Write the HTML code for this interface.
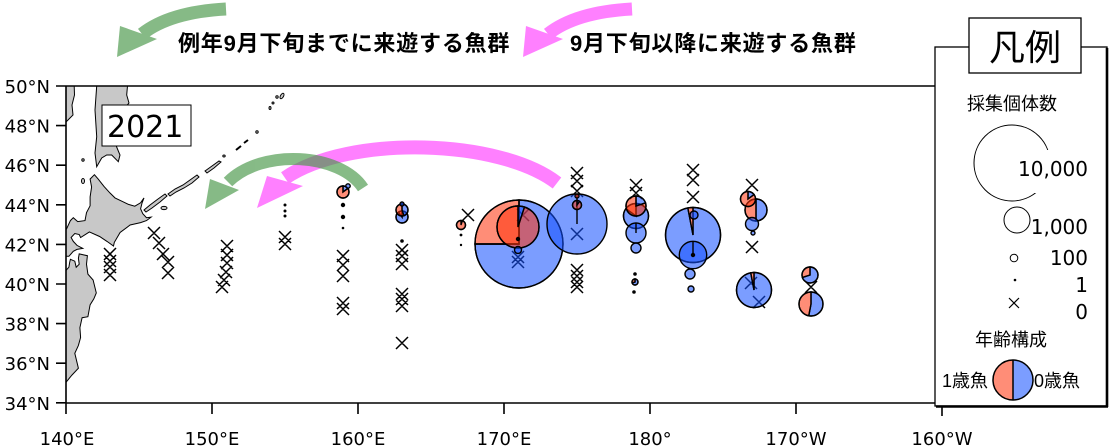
<!DOCTYPE html>
<html><head><meta charset="utf-8">
<style>
html,body{margin:0;padding:0;background:#fff;}
svg{display:block;}
.ax{font-family:"DejaVu Sans","Liberation Sans",sans-serif;font-size:18px;fill:#000;}
.jp{font-family:"Liberation Sans","Noto Sans CJK JP",sans-serif;fill:#000;}
</style></head><body>
<svg width="1109" height="448" viewBox="0 0 1109 448" xmlns="http://www.w3.org/2000/svg">
<defs>
<clipPath id="pc"><rect x="66" y="86" width="869" height="317"/></clipPath>
</defs>
<rect width="1109" height="448" fill="#fff"/>

<!-- land -->
<g clip-path="url(#pc)" fill="#c8c8c8" stroke="#000" stroke-width="1">
<path d="M94.4,174.7 L98.2,179.1 L104,186.4 L109.9,192.9 L115,197.9 L123.1,201.8 L128.5,204.4 L134.8,206.2 L140.6,202.8 L144,197.9 L142.1,202.8 L140.6,208.8 L142.8,213.7 L146.5,217.7 L151.1,217.1 L146.5,220.6 L140.6,222.6 L130.1,225 L120.1,232.5 L114.3,242.4 L113.5,246 L107,241.4 L99.6,236.5 L89.4,231.9 L80.6,237.5 L79.2,234.5 L74.8,233.5 L71.1,237.5 L73.3,241.4 L77,245.4 L82.8,248.4 L77,249.4 L73.3,251.3 L68.9,256.3 L64.5,256.3 L63.1,244.4 L63.1,232.5 L66.7,228.6 L70.4,220.6 L73.3,217.7 L77.7,221.6 L85,220.6 L86.5,212.7 L90.1,205.8 L90.1,196.9 L91.6,187 L90.1,179.1 Z"/>
<path d="M70.4,259.3 L74.8,261.2 L76.2,267.2 L79.2,264.2 L78.4,258.3 L79.2,253.9 L87.4,255.7 L86.5,264.2 L87.9,274.1 L93.1,280 L96.3,292.9 L93.8,298.9 L90.1,304.8 L87.9,316.7 L82.1,317.7 L79.9,327.6 L80.6,337.5 L78.4,345.4 L74.8,353.3 L78.4,368.2 L71.9,375.1 L63.8,385 L51,385 L51,272 L64.5,272.1 L68.9,267.2 L69.7,262.2 Z"/>
<path d="M96.7,80 L96.7,86 L95,110 L96.7,136.7 L95,153 L96.7,166.7 L101.7,158 L106.7,155 L111.7,155 L118.3,161.7 L120,155 L115,143 L116.7,126.7 L123,110 L129,103 L126.7,95 L128,80 Z"/>
<path d="M60,80 L74,80 L74.5,95 L72,105 L73,115 L68,120 L66,122 L60,122 Z"/>
<path d="M144,210 L150,205 L158,199 L165,194 L167,196 L160,202 L152,208 L146,212 Z"/>
<ellipse cx="164" cy="208" rx="3" ry="1.6"/>
<path d="M168,194 L175,189 L183,185 L190,180 L197,175 L199,177 L192,183 L184,188 L176,192 L170,196 Z"/>
<path d="M205,171 L212,166 L219,161 L221,162 L214,168 L207,173 Z"/>
<ellipse cx="83" cy="160" rx="1.2" ry="1.2"/>
<ellipse cx="83" cy="181" rx="1.5" ry="2.5"/>
<ellipse cx="224" cy="156" rx="1.2" ry="1"/>
<path d="M236,150 L241,146" stroke-width="2"/>
<path d="M244,143 L248,140" stroke-width="2"/>
<ellipse cx="257" cy="132" rx="1.2" ry="1.2"/>
<ellipse cx="270" cy="108" rx="1" ry="1.5"/>
<ellipse cx="273" cy="103" rx="1" ry="1"/>
<ellipse cx="277" cy="97" rx="1.2" ry="1.2"/>
<ellipse cx="282" cy="96" rx="1.5" ry="3" transform="rotate(30 282 96)"/>
</g>

<!-- plot arrows -->
<path d="M557,183 C500,139 350,134 285,178" fill="none" stroke="#ff80ff" stroke-width="14"/>
<polygon points="257,208 267,176 303,186" fill="#ff80ff"/>
<g opacity="0.65">
<path d="M363,188 C340,153 262,148 228,182" fill="none" stroke="#469646" stroke-width="12"/>
<polygon points="205,209 210,179 239,190" fill="#469646"/>
</g>

<!-- crosses -->
<path fill="none" stroke="#000" stroke-width="1.5" d="
M104,248l12,12m0,-12l-12,12 M104,255l12,12m0,-12l-12,12 M104,261l12,12m0,-12l-12,12 M104,269l12,12m0,-12l-12,12
M148,227l12,12m0,-12l-12,12 M153,237l12,12m0,-12l-12,12 M157,248l12,12m0,-12l-12,12 M162,256l12,12m0,-12l-12,12 M162,267l12,12m0,-12l-12,12
M221,240l12,12m0,-12l-12,12 M221,249l12,12m0,-12l-12,12 M221,257l12,12m0,-12l-12,12 M220,266l12,12m0,-12l-12,12 M218,274l12,12m0,-12l-12,12 M216,281l12,12m0,-12l-12,12
M279,231l12,12m0,-12l-12,12 M279,238l12,12m0,-12l-12,12
M337,250l12,12m0,-12l-12,12 M337,259l12,12m0,-12l-12,12 M337,270l12,12m0,-12l-12,12 M337,297l12,12m0,-12l-12,12 M337,303l12,12m0,-12l-12,12
M396,244l12,12m0,-12l-12,12 M396,250l12,12m0,-12l-12,12 M396,258l12,12m0,-12l-12,12 M396,288l12,12m0,-12l-12,12 M396,293l12,12m0,-12l-12,12 M396,300l12,12m0,-12l-12,12 M396,337l12,12m0,-12l-12,12
M462,209l12,12m0,-12l-12,12
M512,251l12,12m0,-12l-12,12 M512,256l12,12m0,-12l-12,12 M517,209l12,12m0,-12l-12,12
M571,167l12,12m0,-12l-12,12 M571,175l12,12m0,-12l-12,12 M571,185l12,12m0,-12l-12,12 M571,228l12,12m0,-12l-12,12 M571,264l12,12m0,-12l-12,12 M571,270l12,12m0,-12l-12,12 M571,276l12,12m0,-12l-12,12 M571,281l12,12m0,-12l-12,12
M630,179l12,12m0,-12l-12,12 M630,187l12,12m0,-12l-12,12
M687,164l12,12m0,-12l-12,12 M687,174l12,12m0,-12l-12,12 M687,191l12,12m0,-12l-12,12
M746,179l12,12m0,-12l-12,12 M746,241l12,12m0,-12l-12,12 M745,277l12,12m0,-12l-12,12 M753,296l12,12m0,-12l-12,12
M805,281l12,12m0,-12l-12,12"/>

<!-- dots -->
<g fill="#000">
<circle cx="285" cy="205" r="1.5"/><circle cx="285" cy="211" r="1.5"/><circle cx="285" cy="216" r="1.5"/>
<circle cx="343" cy="205" r="2.2"/><circle cx="343" cy="217" r="2.2"/><circle cx="343" cy="228" r="1.3"/>
<circle cx="402" cy="241" r="1.8"/>
<circle cx="461" cy="235" r="1.4"/><circle cx="461" cy="245" r="1.2"/>
<circle cx="635" cy="274" r="1.8"/><circle cx="634" cy="292" r="1.8"/>
</g>

<!-- pies -->
<g stroke="#000" stroke-width="1.4">
<!-- 159E -->
<path d="M343,192 L343,186 A6,6 0 0 1 347.85,188.47 Z" fill="rgba(20,80,255,0.56)"/>
<path d="M343,192 L343,186 A6,6 0 1 0 347.85,188.47 Z" fill="rgba(255,51,12,0.56)"/>
<circle cx="343" cy="192" r="6" fill="none"/>
<circle cx="348" cy="186" r="2.2" fill="rgba(20,80,255,0.56)"/>
<!-- 163E -->
<path d="M402,217 L402,211 A6,6 0 1 1 398.47,212.15 Z" fill="rgba(20,80,255,0.56)"/>
<path d="M402,217 L402,211 A6,6 0 0 0 398.47,212.15 Z" fill="rgba(255,51,12,0.56)"/>
<circle cx="402" cy="217" r="6" fill="none"/>
<path d="M402,210 L402,204 A6,6 0 0 1 403.85,215.71 Z" fill="rgba(20,80,255,0.56)"/>
<path d="M402,210 L402,204 A6,6 0 1 0 403.85,215.71 Z" fill="rgba(255,51,12,0.56)"/>
<circle cx="402" cy="210" r="6" fill="none"/>
<circle cx="402" cy="204" r="2" fill="rgba(20,80,255,0.56)"/>
<!-- 167E -->
<path d="M461,225 L461,220.5 A4.5,4.5 0 1 0 462.39,220.72 Z" fill="rgba(255,51,12,0.56)"/>
<circle cx="461" cy="225" r="4.5" fill="none"/>
<!-- 171E -->
<path d="M519,244 L519,200 A44,44 0 1 1 475,244 Z" fill="rgba(20,80,255,0.56)"/>
<path d="M519,244 L519,200 A44,44 0 0 0 475,244 Z" fill="rgba(255,51,12,0.56)"/>
<circle cx="519" cy="244" r="44" fill="none"/>
<path d="M475,244 L519,244 L519,200" fill="none"/>
<path d="M518,227 L518,206 A21,21 0 0 1 524.49,207.03 Z" fill="rgba(20,80,255,0.56)"/>
<path d="M518,227 L518,206 A21,21 0 1 0 524.49,207.03 Z" fill="rgba(255,51,12,0.56)"/>
<circle cx="518" cy="227" r="21" fill="none"/>
<circle cx="518" cy="239" r="1.5" fill="#000"/>
<circle cx="518" cy="250" r="3.5" fill="rgba(20,80,255,0.56)"/>
<!-- 175E -->
<circle cx="577" cy="224" r="30" fill="rgba(20,80,255,0.56)"/>
<path d="M577,224 L577,194" fill="none"/>
<path d="M577,205 L577,200.5 A4.5,4.5 0 0 1 579.65,201.36 Z" fill="rgba(20,80,255,0.56)"/>
<path d="M577,205 L577,200.5 A4.5,4.5 0 1 0 579.65,201.36 Z" fill="rgba(255,51,12,0.56)"/>
<circle cx="577" cy="205" r="4.5" fill="none"/>
<circle cx="577" cy="196" r="2" fill="rgba(255,51,12,0.56)"/>
<!-- 179E -->
<path d="M636,216 L636,203.5 A12.5,12.5 0 1 1 625.89,208.65 Z" fill="rgba(20,80,255,0.56)"/>
<path d="M636,216 L636,203.5 A12.5,12.5 0 0 0 625.89,208.65 Z" fill="rgba(255,51,12,0.56)"/>
<circle cx="636" cy="216" r="12.5" fill="none"/>
<path d="M636,206 L636,196 A10,10 0 0 1 645.51,202.91 Z" fill="rgba(20,80,255,0.56)"/>
<path d="M636,206 L636,196 A10,10 0 1 0 645.51,202.91 Z" fill="rgba(255,51,12,0.56)"/>
<circle cx="636" cy="206" r="10" fill="none"/>
<circle cx="636" cy="233" r="10" fill="rgba(20,80,255,0.56)"/>
<path d="M636,233 L636,223" fill="none"/>
<circle cx="636" cy="248" r="5" fill="rgba(20,80,255,0.56)"/>
<path d="M635,282 L635,279 A3,3 0 1 1 632.15,282.93 Z" fill="rgba(20,80,255,0.56)"/>
<path d="M635,282 L635,279 A3,3 0 0 0 632.15,282.93 Z" fill="rgba(255,51,12,0.56)"/>
<circle cx="635" cy="282" r="3" fill="none"/>
<!-- 177W -->
<path d="M693,235 L693,207.5 A27.5,27.5 0 1 1 687.85,208 Z" fill="rgba(20,80,255,0.56)"/>
<path d="M693,235 L693,207.5 A27.5,27.5 0 0 0 687.85,208 Z" fill="rgba(255,51,12,0.56)"/>
<circle cx="693" cy="235" r="27.5" fill="none"/>
<circle cx="694" cy="215" r="4" fill="rgba(20,80,255,0.56)"/>
<circle cx="693" cy="255" r="13.7" fill="rgba(20,80,255,0.56)"/>
<path d="M693,255 L693,241.3" fill="none"/>
<circle cx="693" cy="255" r="1.5" fill="#000"/>
<circle cx="690" cy="274" r="5" fill="rgba(20,80,255,0.56)"/>
<circle cx="691" cy="289" r="3" fill="rgba(20,80,255,0.56)"/>
<!-- 173W -->
<path d="M756,210 L756,199 A11,11 0 0 1 756,221 Z" fill="rgba(20,80,255,0.56)"/>
<path d="M756,210 L756,199 A11,11 0 0 0 756,221 Z" fill="rgba(255,51,12,0.56)"/>
<circle cx="756" cy="210" r="11" fill="none"/>
<path d="M748,199 L748,191.5 A7.5,7.5 0 0 1 754.07,194.59 Z" fill="rgba(20,80,255,0.56)"/>
<path d="M748,199 L748,191.5 A7.5,7.5 0 1 0 754.07,194.59 Z" fill="rgba(255,51,12,0.56)"/>
<circle cx="748" cy="199" r="7.5" fill="none"/>
<circle cx="752" cy="224" r="6.5" fill="rgba(20,80,255,0.56)"/>
<circle cx="753" cy="233" r="2" fill="rgba(20,80,255,0.56)"/>
<path d="M754,290 L754,272.5 A17.5,17.5 0 1 1 750.73,272.81 Z" fill="rgba(20,80,255,0.56)"/>
<path d="M754,290 L754,272.5 A17.5,17.5 0 0 0 750.73,272.81 Z" fill="rgba(255,51,12,0.56)"/>
<circle cx="754" cy="290" r="17.5" fill="none"/>
<!-- 169W -->
<path d="M810,275 L810,267 A8,8 0 1 1 802.39,277.47 Z" fill="rgba(20,80,255,0.56)"/>
<path d="M810,275 L810,267 A8,8 0 0 0 802.39,277.47 Z" fill="rgba(255,51,12,0.56)"/>
<circle cx="810" cy="275" r="8" fill="none"/>
<path d="M811,304 L811,292 A12,12 0 1 1 808.75,315.79 Z" fill="rgba(20,80,255,0.56)"/>
<path d="M811,304 L811,292 A12,12 0 0 0 808.75,315.79 Z" fill="rgba(255,51,12,0.56)"/>
<circle cx="811" cy="304" r="12" fill="none"/>
</g>

<!-- frame and ticks -->
<g stroke="#000" stroke-width="1.6" fill="none">
<path d="M66,86 L935,86 M66,86 L66,403.5 M66,403 L935,403"/>
<path d="M56,86 H66 M56,125.6 H66 M56,165.2 H66 M56,204.8 H66 M56,244.4 H66 M56,284 H66 M56,323.6 H66 M56,363.2 H66 M56,402.8 H66"/>
<path d="M66,403 V414 M212,403 V414 M358,403 V414 M504,403 V414 M650,403 V414 M796,403 V414 M942,403 V416"/>
</g>
<g class="ax" text-anchor="end">
<text x="50" y="93">50°N</text>
<text x="50" y="132.6">48°N</text>
<text x="50" y="172.2">46°N</text>
<text x="50" y="211.8">44°N</text>
<text x="50" y="251.4">42°N</text>
<text x="50" y="291">40°N</text>
<text x="50" y="330.6">38°N</text>
<text x="50" y="370.2">36°N</text>
<text x="50" y="409.8">34°N</text>
</g>
<g class="ax" text-anchor="middle">
<text x="67" y="445">140°E</text>
<text x="212" y="445">150°E</text>
<text x="358" y="445">160°E</text>
<text x="504" y="445">170°E</text>
<text x="650" y="445">180°</text>
<text x="796" y="445">170°W</text>
<text x="942" y="445">160°W</text>
</g>

<!-- year box -->
<rect x="102" y="105" width="89" height="41" fill="#fff" stroke="#000" stroke-width="1"/>
<text x="107" y="137" class="ax" style="font-size:30px">2021</text>

<!-- legend -->
<rect x="935" y="47" width="172" height="359" fill="#fff" stroke="#000" stroke-width="1.3"/>
<path d="M1107,48 V407 M936,406.5 H1108" stroke="#000" stroke-width="2.6" fill="none"/>
<rect x="969" y="18" width="112" height="55" fill="#fff" stroke="#000" stroke-width="1.3"/>
<text x="1025" y="60" text-anchor="middle" class="jp" style="font-size:36px">凡例</text>
<text x="967" y="110" class="jp" style="font-size:18px">採集個体数</text>
<circle cx="1012" cy="163" r="38" fill="none" stroke="#000" stroke-width="1"/>
<rect x="1016" y="150" width="80" height="43" fill="#fff"/>
<g class="ax" text-anchor="end" style="font-size:20px">
<text x="1088" y="176">10,000</text>
<text x="1088" y="234">1,000</text>
<text x="1088" y="265">100</text>
<text x="1088" y="292">1</text>
<text x="1088" y="319">0</text>
</g>
<circle cx="1017" cy="220" r="13" fill="none" stroke="#000" stroke-width="1"/>
<circle cx="1014" cy="258" r="3.8" fill="none" stroke="#000" stroke-width="1"/>
<circle cx="1015" cy="280" r="1.3" fill="#000"/>
<path d="M1009,298 l10,10 m0,-10 l-10,10" stroke="#000" stroke-width="1.2" fill="none"/>
<text x="975" y="346" class="jp" style="font-size:18px">年齢構成</text>
<path d="M1013,360 A20,20 0 0 0 1013,400 Z" fill="rgba(255,51,12,0.56)"/>
<path d="M1013,360 A20,20 0 0 1 1013,400 Z" fill="rgba(20,80,255,0.56)"/>
<circle cx="1013" cy="380" r="20" fill="none" stroke="#000" stroke-width="1.5"/>
<path d="M1013,360 V400" stroke="#000" stroke-width="1.5"/>
<text x="942" y="387" class="jp" style="font-size:18px">1歳魚</text>
<text x="1034" y="387" class="jp" style="font-size:18px">0歳魚</text>

<!-- top arrows and captions -->
<g opacity="0.65">
<path d="M226,9 Q170,12 142,34" fill="none" stroke="#469646" stroke-width="13"/>
<polygon points="117,57 120,26 157,39" fill="#469646"/>
</g>
<path d="M632,9 Q576,12 548,34" fill="none" stroke="#ff80ff" stroke-width="13"/>
<polygon points="523,57 526,26 563,39" fill="#ff80ff"/>
<text x="178" y="51" class="jp" style="font-size:22px;font-weight:bold;letter-spacing:0.8px">例年9月下旬までに来遊する魚群</text>
<text x="570" y="51" class="jp" style="font-size:22px;font-weight:bold;letter-spacing:0.8px">9月下旬以降に来遊する魚群</text>
</svg>
</body></html>
